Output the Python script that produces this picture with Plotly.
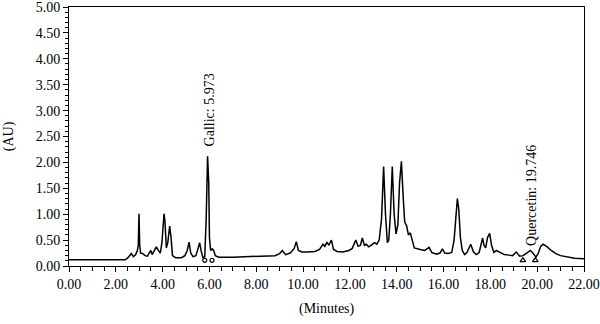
import plotly.graph_objects as go

# Chromatogram points (minutes, AU)
time_min = [0.00, 2.40, 2.50, 2.60, 2.66, 2.75, 2.85, 2.92, 2.96, 2.99, 3.02, 3.06, 3.15, 3.25, 3.35,
            3.45, 3.49, 3.55, 3.62, 3.73, 3.82, 3.90, 3.97, 4.03, 4.06, 4.10, 4.16, 4.22, 4.30, 4.36,
            4.42, 4.55, 4.80, 4.95, 5.05, 5.13, 5.20, 5.30, 5.42, 5.52, 5.58, 5.64, 5.72, 5.80, 5.86,
            5.92, 5.97, 6.00, 6.05, 6.12, 6.18, 6.25, 6.40, 7.00, 7.50, 8.00, 8.50, 8.80, 9.00, 9.11,
            9.25, 9.45, 9.62, 9.71, 9.80, 9.95, 10.20, 10.50, 10.70, 10.85, 10.93, 11.02, 11.10, 11.21, 11.30,
            11.45, 11.70, 11.95, 12.10, 12.25, 12.35, 12.45, 12.53, 12.62, 12.70, 12.80, 12.90, 13.05, 13.15, 13.25,
            13.35, 13.44, 13.52, 13.60, 13.66, 13.73, 13.81, 13.89, 13.97, 14.05, 14.12, 14.20, 14.28, 14.34, 14.42,
            14.50, 14.58, 14.66, 14.75, 15.00, 15.20, 15.38, 15.50, 15.70, 15.85, 15.95, 16.05, 16.20, 16.35, 16.45,
            16.55, 16.59, 16.65, 16.72, 16.80, 16.90, 17.00, 17.16, 17.28, 17.40, 17.52, 17.60, 17.67, 17.73, 17.80,
            17.88, 17.97, 18.05, 18.15, 18.25, 18.40, 18.60, 18.80, 18.95, 19.11, 19.25, 19.40, 19.55, 19.71, 19.85,
            19.95, 20.05, 20.15, 20.25, 20.40, 20.60, 20.80, 21.00, 21.30, 21.60, 22.00]
absorbance = [0.12, 0.12, 0.15, 0.22, 0.24, 0.18, 0.22, 0.30, 0.40, 1.01, 0.40, 0.25, 0.24, 0.20, 0.19,
              0.27, 0.30, 0.22, 0.27, 0.37, 0.30, 0.25, 0.45, 0.95, 1.01, 0.85, 0.35, 0.45, 0.77, 0.55,
              0.20, 0.16, 0.16, 0.20, 0.30, 0.46, 0.25, 0.18, 0.20, 0.35, 0.45, 0.30, 0.16, 0.18, 0.90,
              2.12, 1.60, 0.55, 0.30, 0.33, 0.30, 0.20, 0.17, 0.17, 0.18, 0.19, 0.19, 0.20, 0.24, 0.30,
              0.22, 0.25, 0.34, 0.47, 0.30, 0.27, 0.27, 0.28, 0.32, 0.42, 0.38, 0.46, 0.40, 0.50, 0.32,
              0.28, 0.27, 0.30, 0.34, 0.50, 0.38, 0.40, 0.54, 0.40, 0.42, 0.37, 0.40, 0.45, 0.42, 0.50,
              0.90, 1.92, 1.00, 0.45, 0.50, 1.00, 1.92, 1.00, 0.62, 0.80, 1.60, 2.02, 1.30, 0.85, 0.78,
              0.60, 0.64, 0.50, 0.35, 0.32, 0.30, 0.36, 0.26, 0.23, 0.25, 0.33, 0.25, 0.24, 0.26, 0.50,
              1.20, 1.30, 1.10, 0.55, 0.30, 0.22, 0.26, 0.42, 0.27, 0.22, 0.26, 0.45, 0.54, 0.40, 0.35,
              0.55, 0.63, 0.40, 0.26, 0.30, 0.27, 0.22, 0.21, 0.20, 0.27, 0.19, 0.20, 0.25, 0.30, 0.23,
              0.17, 0.25, 0.38, 0.42, 0.38, 0.30, 0.24, 0.20, 0.17, 0.15, 0.14]

# Integration markers (peak start/end)
gallic_marks_t = [5.80, 6.11]
gallic_marks_v = [0.11, 0.11]
quercetin_marks_t = [19.39, 19.92]
quercetin_marks_v = [0.11, 0.11]

# Peak labels
peak_labels = ["Gallic: 5.973", "Quercetin: 19.746"]
peak_label_t = [5.98, 19.78]
peak_label_v = [2.28, 0.34]

x_ticks = [0, 2, 4, 6, 8, 10, 12, 14, 16, 18, 20, 22]
y_ticks = [0, 0.5, 1.0, 1.5, 2.0, 2.5, 3.0, 3.5, 4.0, 4.5, 5.0]

FONT = "Liberation Serif"
FS = 14

fig = go.Figure()
fig.add_trace(go.Scatter(x=time_min, y=absorbance, mode="lines",
                         line=dict(color="black", width=1.5), showlegend=False))
fig.add_trace(go.Scatter(x=gallic_marks_t, y=gallic_marks_v, mode="markers",
                         marker=dict(symbol="circle-open", size=4, color="black", line=dict(width=1.2)),
                         showlegend=False))
fig.add_trace(go.Scatter(x=quercetin_marks_t, y=quercetin_marks_v, mode="markers",
                         marker=dict(symbol="triangle-up-open", size=5, color="black", line=dict(width=1.2)),
                         showlegend=False))

for txt, t, v in zip(peak_labels, peak_label_t, peak_label_v):
    fig.add_annotation(x=t, y=v, text=txt, textangle=-90, showarrow=False,
                       xanchor="center", yanchor="bottom",
                       font=dict(family=FONT, size=FS, color="black"))

fig.add_annotation(xref="paper", yref="paper", x=-0.117, y=0.5, text="(AU)", textangle=-90,
                   showarrow=False, xanchor="center", yanchor="middle",
                   font=dict(family=FONT, size=FS, color="black"))
fig.add_annotation(xref="paper", yref="paper", x=0.5, y=-0.165, text="(Minutes)",
                   showarrow=False, xanchor="center", yanchor="middle",
                   font=dict(family=FONT, size=FS, color="black"))

fig.update_xaxes(range=[0, 22], tickvals=x_ticks, ticktext=[f"{v:.2f}" for v in x_ticks],
                 ticks="outside", ticklen=5, tickcolor="black", tickwidth=1,
                 minor=dict(dtick=0.5, ticks="outside", ticklen=4, tickcolor="black", tickwidth=1),
                 showline=True, linecolor="black", linewidth=1, mirror=True,
                 showgrid=False, zeroline=False, automargin=False, ticklabeloverflow="allow",
                 tickfont=dict(family=FONT, size=FS, color="black"))
fig.update_yaxes(range=[0, 5], tickvals=y_ticks, ticktext=[f"{v:.2f}" for v in y_ticks],
                 ticks="outside", ticklen=5, tickcolor="black", tickwidth=1,
                 minor=dict(dtick=0.1, ticks="outside", ticklen=3, tickcolor="black", tickwidth=1),
                 showline=True, linecolor="black", linewidth=1, mirror=True,
                 showgrid=False, zeroline=False, automargin=False, ticklabeloverflow="allow",
                 tickfont=dict(family=FONT, size=FS, color="black"))

fig.update_layout(width=600, height=324, margin=dict(l=69, r=16, t=7, b=58, autoexpand=False),
                  paper_bgcolor="white", plot_bgcolor="white",
                  font=dict(family=FONT, size=FS, color="black"))

fig.write_html("out.html", config={"displayModeBar": False},
               post_script="document.body.style.margin='0';document.body.style.overflow='hidden';")
